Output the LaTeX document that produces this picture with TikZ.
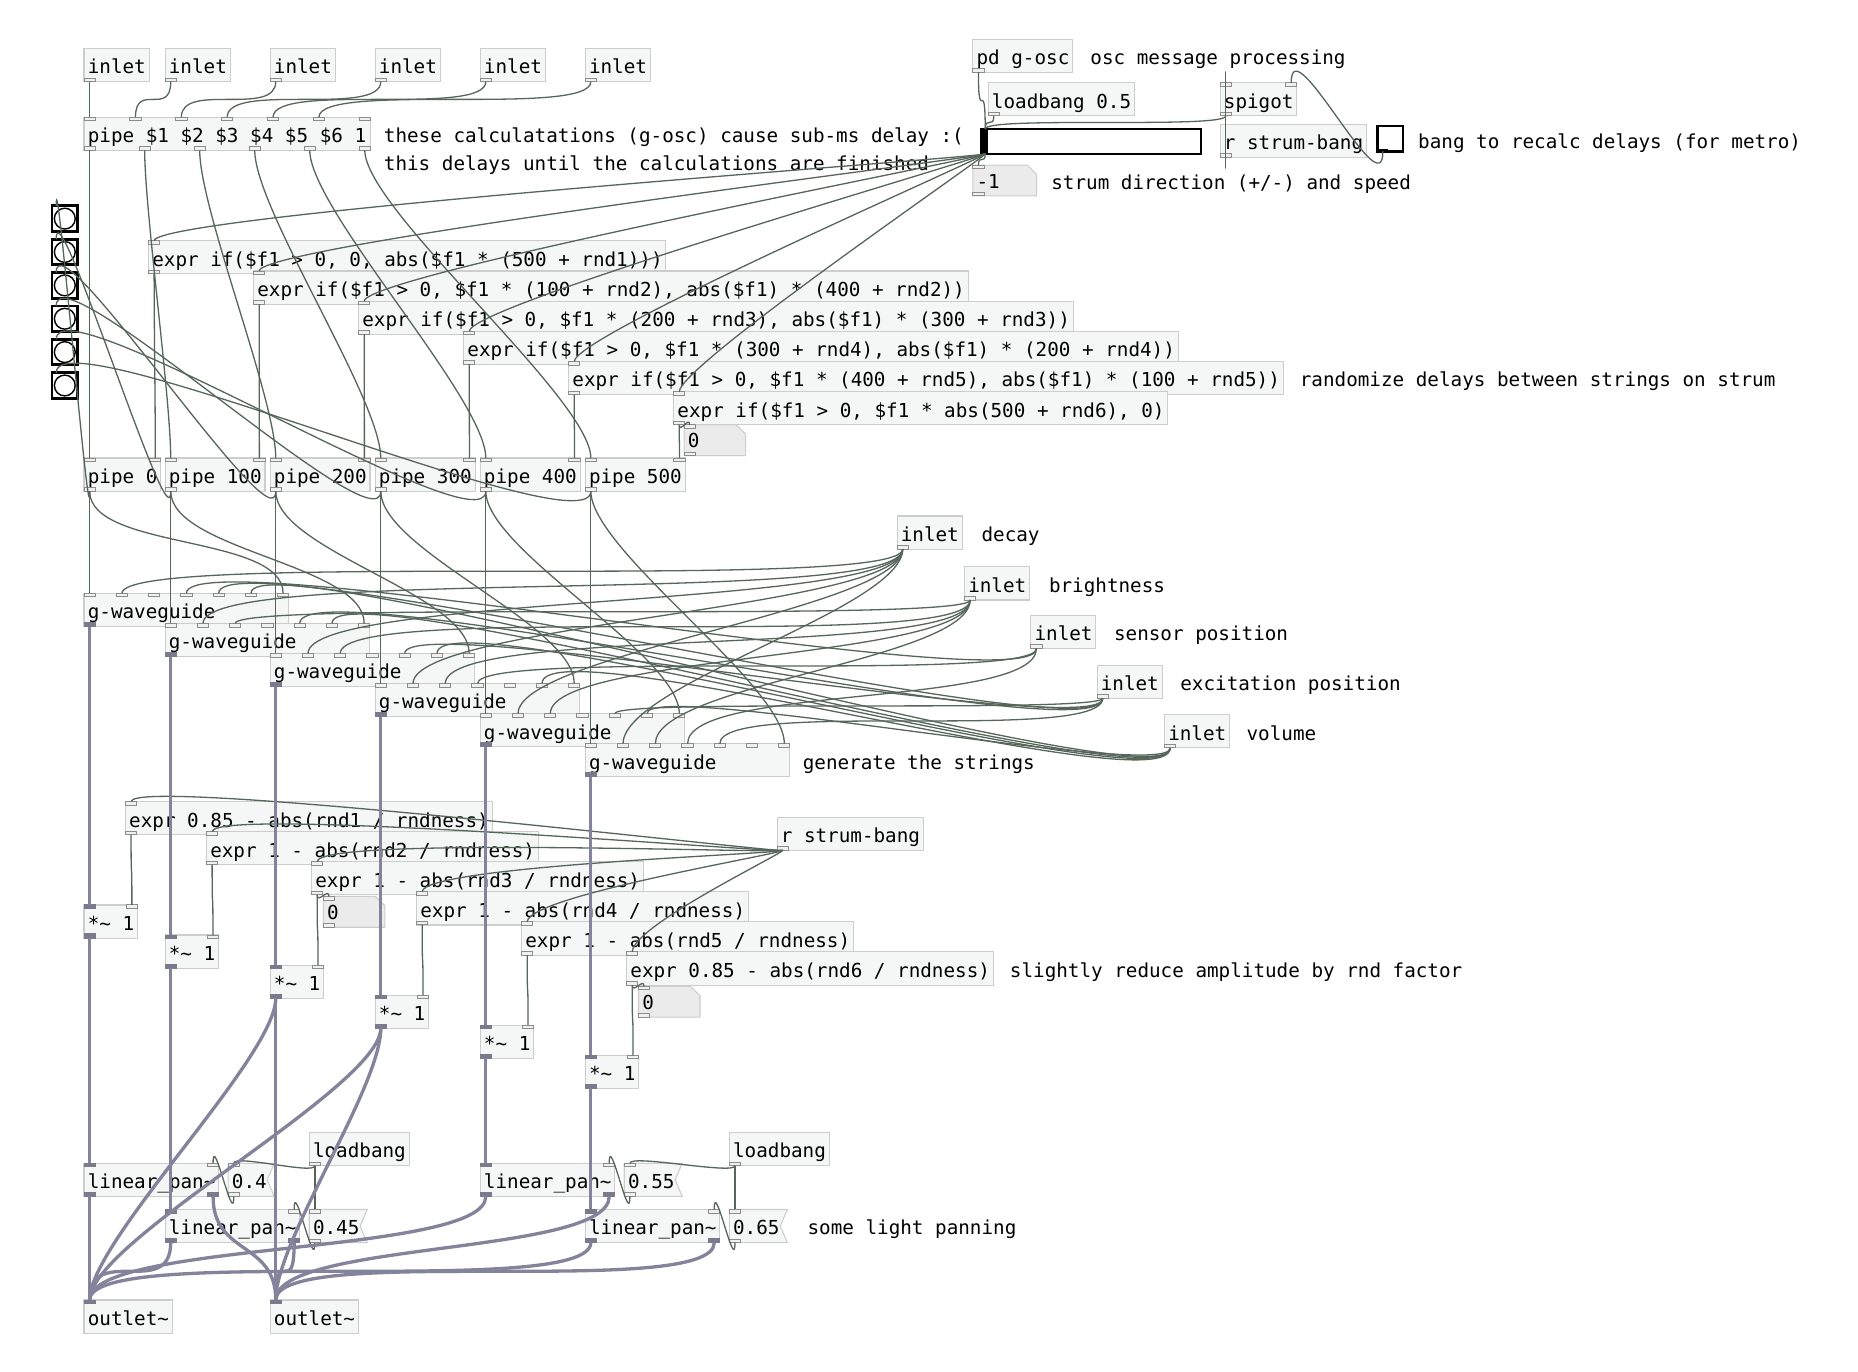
\documentclass[tikz,border=0pt]{standalone}
\usepackage{fontspec}
\setmonofont{DejaVu Sans Mono}
\usetikzlibrary{calc}
\definecolor{ctlc}{HTML}{56665A}
\definecolor{sigc}{HTML}{83839B}
\definecolor{boxb}{HTML}{CDCDCD}
\definecolor{boxf}{HTML}{F5F7F7}
\definecolor{portb}{HTML}{8C8C8C}
\definecolor{portf}{HTML}{F0F0F0}
\definecolor{sigp}{HTML}{7A7A8C}
\definecolor{atomf}{HTML}{EBEBEB}
\newcommand\pdfont{\ttfamily\fontsize{8.14pt}{9pt}\selectfont}
\tikzset{
  pdbox/.style={draw=boxb,fill=boxf,line width=0.45pt,inner sep=0pt,outer sep=0pt,rectangle},
  pdtext/.style={inner sep=0pt,font=\pdfont,text=black},
  portc/.style={draw=portb,fill=portf,line width=0.4pt},
  ports/.style={draw=sigp,fill=sigp,line width=0.4pt},
  ctl/.style={draw=ctlc,line width=0.55pt},
  sig/.style={draw=sigc,line width=1.4pt},
  atomfold/.style={draw=boxb,fill=atomf,line width=0.45pt},
  atomnotch/.style={draw=boxb,fill=boxf,line width=0.45pt},
  guiblk/.style={draw=black,fill=white,line width=1pt,inner sep=0pt,outer sep=0pt,anchor=north west},
}
\newcommand\inports[5]{%
  \gdef\np{0}%
  \foreach \ty in {#5}{\xdef\np{\the\numexpr\np+1\relax}}%
  \foreach \ty [count=\k from 0] in {#5}{%
    \pgfmathsetmacro\px{#2+4.75+\k*(#4-9.5)/max(\np-1,1)}%
    \if s\ty \draw[ports] (\px-4.75,#3) rectangle (\px+4.75,#3+3);%
    \else \draw[portc] (\px-4.75,#3) rectangle (\px+4.75,#3+3);\fi
    \coordinate (#1-i\k) at (\px,#3);%
  }%
}
\newcommand\outports[5]{%
  \gdef\np{0}%
  \foreach \ty in {#5}{\xdef\np{\the\numexpr\np+1\relax}}%
  \foreach \ty [count=\k from 0] in {#5}{%
    \pgfmathsetmacro\px{#2+4.75+\k*(#4-9.5)/max(\np-1,1)}%
    \if s\ty \draw[ports] (\px-4.75,#3-3.5) rectangle (\px+4.75,#3);%
    \else \draw[portc] (\px-4.75,#3-3) rectangle (\px+4.75,#3);\fi
    \coordinate (#1-o\k) at (\px,#3);%
  }%
}
\newcommand\pdbox[5]{%
  \pgfmathsetmacro\bw{#4*0.5}%
  \node[pdbox,anchor=north west,minimum width=\bw pt,minimum height=14pt] (#1) at (#2,#3) {};
  \node[pdtext,anchor=base west] (#1-t) at (#2+2.8,#3+21.5) {#5};
}
\newcommand\atomA[5]{%
  \pgfmathsetmacro\bw{#4*0.5}%
  \node[inner sep=0pt,outer sep=0pt,anchor=north west,minimum width=\bw pt,minimum height=13pt] (#1) at (#2,#3) {};
  \draw[atomfold] (#2,#3) -- (#2+#4-8,#3) -- (#2+#4,#3+8) -- (#2+#4,#3+26) -- (#2,#3+26) -- cycle;
  \node[pdtext,anchor=base west] (#1-t) at (#2+2.8,#3+19.5) {#5};
  \inports{#1}{#2}{#3}{#4}{c}
  \outports{#1}{#2}{#3+26}{#4}{c}
}
\newcommand\atomB[5]{%
  \pgfmathsetmacro\bw{#4*0.5}%
  \node[inner sep=0pt,outer sep=0pt,anchor=north west,minimum width=\bw pt,minimum height=14pt] (#1) at (#2,#3) {};
  \draw[atomnotch] (#2,#3) -- (#2+#4,#3) -- (#2+#4-6,#3+14) -- (#2+#4,#3+28) -- (#2,#3+28) -- cycle;
  \node[pdtext,anchor=base west] (#1-t) at (#2+2.8,#3+21.5) {#5};
  \inports{#1}{#2}{#3}{#4}{c}
  \outports{#1}{#2}{#3+28}{#4}{c}
}
\newcommand\wire[3][ctl]{%
  \draw[#1] let \p1=(#2),\p2=(#3),\n1={max(min(abs(\y2-\y1),25pt),4pt)} in
    (\p1) .. controls (\x1,\y1-\n1) and (\x2,\y2+\n1) .. (\p2);%
}
\newcommand\wirex[5][ctl]{%
  \draw[#1] let \p1=(#2),\p2=(#3) in
    (\p1) .. controls (\x1,\y1-#4*0.5pt) and (\x2,\y2+#5*0.5pt) .. (\p2);%
}
\newcommand\cmt[4]{\node[pdtext,anchor=base west] (#1) at (#2,#3) {#4};}
\begin{document}
\begin{tikzpicture}[x=0.5pt,y=-0.5pt]
\fill[white] (0,0) rectangle (1570,1159);
\useasboundingbox (0,0) rectangle (1570,1159);

% ---------- top inlets and pipe
\foreach \nm/\xx in {in1/71,in2/139.5,in3/228.25,in4/317,in5/405.75,in6/494.5}{
  \pdbox{\nm}{\xx}{41}{55}{inlet}
  \outports{\nm}{\xx}{69}{55}{c}
}
\pdbox{ps}{71}{99}{242}{pipe \$1 \$2 \$3 \$4 \$5 \$6 1}
\inports{ps}{71}{99}{242}{c,c,c,c,c,c,c}
\outports{ps}{71}{127}{242}{c,c,c,c,c,c}
\cmt{cma}{324}{120}{these calculatations (g-osc) cause sub-ms delay :(}
\cmt{cmb}{324}{144}{this delays until the calculations are finished}

% ---------- top right
\pdbox{pdg}{822}{33}{84.4}{pd g-osc}
\outports{pdg}{822}{61}{84.4}{c}
\cmt{cmc}{921}{54.5}{osc message processing}
\pdbox{lbh}{835}{70}{123.6}{loadbang 0.5}
\outports{lbh}{835}{98}{123.6}{c}
\pdbox{spg}{1031}{70}{64.8}{spigot}
\inports{spg}{1031}{70}{64.8}{c,c}
\outports{spg}{1031}{98}{64.8}{c}
\pdbox{rsa}{1031}{105}{123.6}{r strum-bang}
\outports{rsa}{1031}{133}{123.6}{c}
\node[guiblk,minimum width=92.75pt,minimum height=10.5pt] (sl) at (829.5,109) {};
\fill (830.5,110) rectangle (835,129.5);
\coordinate (sl-i0) at (832.5,109);
\coordinate (sl-o0) at (832.5,130);
\node[guiblk,minimum width=10.75pt,minimum height=10.75pt] (tg) at (1164,106.5) {};
\fill (1165,125.5) rectangle (1173,128.5);
\coordinate (tg-o0) at (1168.5,128);
\cmt{cmd}{1198}{125.5}{bang to recalc delays (for metro)}
\atomA{nm1}{822}{139.5}{54}{-1}
\cmt{cme}{888}{160}{strum direction (+/-) and speed}

% ---------- delay exprs
\pdbox{e1}{125.5}{203.5}{437.2}{expr if(\$f1 > 0, 0, abs(\$f1 * (500 + rnd1)))}
\pdbox{e2}{214.25}{229}{603.8}{expr if(\$f1 > 0, \$f1 * (100 + rnd2), abs(\$f1) * (400 + rnd2))}
\pdbox{e3}{303}{254.5}{603.8}{expr if(\$f1 > 0, \$f1 * (200 + rnd3), abs(\$f1) * (300 + rnd3))}
\pdbox{e4}{391.75}{280}{603.8}{expr if(\$f1 > 0, \$f1 * (300 + rnd4), abs(\$f1) * (200 + rnd4))}
\pdbox{e5}{480.5}{305.5}{603.8}{expr if(\$f1 > 0, \$f1 * (400 + rnd5), abs(\$f1) * (100 + rnd5))}
\pdbox{e6}{569.25}{331}{417.6}{expr if(\$f1 > 0, \$f1 * abs(500 + rnd6), 0)}
\foreach \nm/\xx/\yy/\ww in {e1/125.5/203.5/437.2,e2/214.25/229/603.8,e3/303/254.5/603.8,e4/391.75/280/603.8,e5/480.5/305.5/603.8,e6/569.25/331/417.6}{
  \inports{\nm}{\xx}{\yy}{\ww}{c}
  \outports{\nm}{\xx}{\yy+28}{\ww}{c}
}
\cmt{cmf}{1098}{327}{randomize delays between strings on strum}
\atomA{za}{578}{359}{52}{0}

% ---------- pipes
\pdbox{p0}{71}{387}{65}{pipe 0}
\inports{p0}{71}{387}{65}{c,c}
\outports{p0}{71}{415}{65}{c}
\foreach \nm/\xx/\tx in {p1/139.5/100,p2/228.25/200,p3/317/300,p4/405.75/400,p5/494.5/500}{
  \pdbox{\nm}{\xx}{387}{84.4}{pipe \tx}
  \inports{\nm}{\xx}{387}{84.4}{c,c}
  \outports{\nm}{\xx}{415}{84.4}{c}
}

% ---------- bangs
\foreach \nm/\yy in {b1/174,b2/202.2,b3/230.4,b4/258.6,b5/286.8,b6/315}{
  \node[guiblk,minimum width=10.75pt,minimum height=10.75pt,line width=1.2pt] (\nm) at (44,\yy) {};
  \draw[line width=0.6pt] (\nm.center) circle (4.4pt);
  \coordinate (\nm-i0) at (47.5,\yy);
}

% ---------- waveguides
\foreach \nm/\xx/\yy in {g1/71/501.4,g2/139.5/526.8,g3/228.25/552.2,g4/317/577.6,g5/405.75/603,g6/494.5/628.4}{
  \pdbox{\nm}{\xx}{\yy}{173}{g-waveguide}
  \inports{\nm}{\xx}{\yy}{173}{c,c,c,c,c,c,c}
  \outports{\nm}{\xx}{\yy+28}{173}{s}
}
\cmt{cmg}{678}{650}{generate the strings}

% ---------- parameter inlets
\foreach \nm/\xx/\yy in {dec/758/436,bri/815/479,sen/871/520,exc/927/562,vol/984/604}{
  \pdbox{\nm}{\xx}{\yy}{55}{inlet}
  \outports{\nm}{\xx}{\yy+28}{55}{c}
}
\cmt{cmh}{829}{457.5}{decay}
\cmt{cmi}{886}{500.5}{brightness}
\cmt{cmj}{941}{541.5}{sensor position}
\cmt{cmk}{997}{583.5}{excitation position}
\cmt{cml}{1053}{625.5}{volume}

% ---------- amplitude exprs
\pdbox{ae1}{106}{677.4}{309.8}{expr 0.85 - abs(rnd1 / rndness)}
\pdbox{ae2}{174.5}{702.8}{280.4}{expr 1 - abs(rnd2 / rndness)}
\pdbox{ae3}{263.25}{728.2}{280.4}{expr 1 - abs(rnd3 / rndness)}
\pdbox{ae4}{352}{753.6}{280.4}{expr 1 - abs(rnd4 / rndness)}
\pdbox{ae5}{440.75}{779}{280.4}{expr 1 - abs(rnd5 / rndness)}
\pdbox{ae6}{529.5}{804.4}{309.8}{expr 0.85 - abs(rnd6 / rndness)}
\foreach \nm/\xx/\yy/\ww in {ae1/106/677.4/309.8,ae2/174.5/702.8/280.4,ae3/263.25/728.2/280.4,ae4/352/753.6/280.4,ae5/440.75/779/280.4,ae6/529.5/804.4/309.8}{
  \inports{\nm}{\xx}{\yy}{\ww}{c}
  \outports{\nm}{\xx}{\yy+28}{\ww}{c}
}
\cmt{cmm}{853}{826}{slightly reduce amplitude by rnd factor}
\pdbox{rsb}{656.6}{690.5}{123.6}{r strum-bang}
\outports{rsb}{656.6}{718.5}{123.6}{c}
\atomA{zb}{273.25}{757.5}{52}{0}
\atomA{zc}{539.5}{833.5}{52}{0}

% ---------- multipliers
\foreach \nm/\xx/\yy in {m1/71/764.7,m2/139.5/790.1,m3/228.25/815.5,m4/317/840.9,m5/405.75/866.3,m6/494.5/891.7}{
  \pdbox{\nm}{\xx}{\yy}{45.2}{*\textasciitilde{} 1}
  \inports{\nm}{\xx}{\yy}{45.2}{s,c}
  \outports{\nm}{\xx}{\yy+28}{45.2}{s}
}

% ---------- panning
\foreach \nm/\xx/\yy in {lp1/71/983,lp2/139.5/1022,lp3/405.75/983,lp4/494.5/1022}{
  \pdbox{\nm}{\xx}{\yy}{113.8}{linear\_pan\textasciitilde}
  \inports{\nm}{\xx}{\yy}{113.8}{s,c}
  \outports{\nm}{\xx}{\yy+28}{113.8}{s,s}
}
\atomB{na}{192.8}{983}{39}{0.4}
\atomB{nb}{261.3}{1022}{49}{0.45}
\atomB{nc}{527.5}{983}{49}{0.55}
\atomB{nd}{616.3}{1022}{49}{0.65}
\pdbox{lbl}{261.3}{957}{84.4}{loadbang}
\outports{lbl}{261.3}{985}{84.4}{c}
\pdbox{lbr}{616.3}{957}{84.4}{loadbang}
\outports{lbr}{616.3}{985}{84.4}{c}
\cmt{cmn}{682}{1043.5}{some light panning}
\pdbox{ol}{71}{1098.5}{74.6}{outlet\textasciitilde}
\inports{ol}{71}{1098.5}{74.6}{s}
\pdbox{orr}{228.25}{1098.5}{74.6}{outlet\textasciitilde}
\inports{orr}{228.25}{1098.5}{74.6}{s}

% =========== wires
\foreach \a/\b in {in1/0,in2/1,in3/2,in4/3,in5/4,in6/5}{\wire{\a-o0}{ps-i\b}}
\foreach \b/\c in {0/p0,1/p1,2/p2,3/p3,4/p4,5/p5}{\wire{ps-o\b}{\c-i0}}
\wire{pdg-o0}{sl-i0}
\wire{lbh-o0}{sl-i0}
\wire{spg-o0}{sl-i0}
\wire{rsa-o0}{spg-i0}
\wire{tg-o0}{spg-i1}
\wire{sl-o0}{nm1-i0}
\foreach \c in {e1,e2,e3,e4,e5,e6}{\wirex{sl-o0}{\c-i0}{3}{22}}
\foreach \a/\c in {e1/p0,e2/p1,e3/p2,e4/p3,e5/p4,e6/p5}{\wire{\a-o0}{\c-i1}}
\wire{e6-o0}{za-i0}
\foreach \a/\bb/\g in {p0/b1/g1,p1/b2/g2,p2/b3/g3,p3/b4/g4,p4/b5/g5,p5/b6/g6}{
  \wire{\a-o0}{\bb-i0}
  \wire{\a-o0}{\g-i0}
  \wire{\a-o0}{\g-i6}
}
\foreach \src/\ii in {dec/1,sen/3,exc/4,vol/5}{\wire{\src-o0}{g1-i\ii}}
\foreach \src/\ii in {dec/1,bri/2,exc/4,vol/5}{\wire{\src-o0}{g2-i\ii}}
\foreach \src/\ii in {dec/1,bri/2,exc/4,vol/5}{\wire{\src-o0}{g3-i\ii}}
\foreach \src/\ii in {dec/1,bri/2,sen/3,vol/5}{\wire{\src-o0}{g4-i\ii}}
\foreach \src/\ii in {dec/1,bri/2,exc/4,vol/5}{\wire{\src-o0}{g5-i\ii}}
\foreach \src/\ii in {dec/1,bri/2,sen/3,exc/4}{\wire{\src-o0}{g6-i\ii}}
\foreach \c in {ae1,ae2,ae3,ae4,ae5,ae6}{\wirex{rsb-o0}{\c-i0}{3}{22}}
\foreach \a/\c in {ae1/m1,ae2/m2,ae3/m3,ae4/m4,ae5/m5,ae6/m6}{\wire{\a-o0}{\c-i1}}
\wire{ae3-o0}{zb-i0}
\wire{ae6-o0}{zc-i0}
\wire{lbl-o0}{na-i0}
\wire{lbl-o0}{nb-i0}
\wire{lbr-o0}{nc-i0}
\wire{lbr-o0}{nd-i0}
\wire{na-o0}{lp1-i1}
\wire{nb-o0}{lp2-i1}
\wire{nc-o0}{lp3-i1}
\wire{nd-o0}{lp4-i1}
% signal
\foreach \a/\c in {g1/m1,g2/m2,g3/m3,g4/m4,g5/m5,g6/m6}{\wire[sig]{\a-o0}{\c-i0}}
\wire[sig]{m1-o0}{lp1-i0}
\wire[sig]{m2-o0}{lp2-i0}
\wire[sig]{m5-o0}{lp3-i0}
\wire[sig]{m6-o0}{lp4-i0}
\wire[sig]{m3-o0}{ol-i0}
\wire[sig]{m3-o0}{orr-i0}
\wire[sig]{m4-o0}{ol-i0}
\wire[sig]{m4-o0}{orr-i0}
\foreach \a in {lp1,lp2,lp3,lp4}{
  \wire[sig]{\a-o0}{ol-i0}
  \wire[sig]{\a-o1}{orr-i0}
}
\end{tikzpicture}
\end{document}
